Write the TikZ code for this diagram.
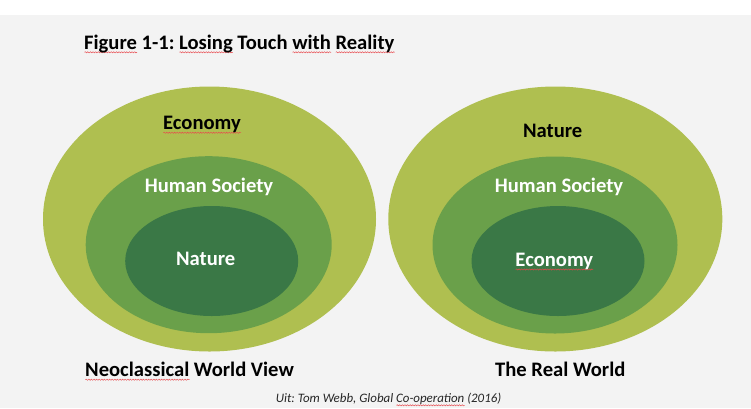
\documentclass[tikz,border=0pt]{standalone}
\usepackage{fontspec}
\setmainfont{Carlito}
\usepackage{xcolor}
\usetikzlibrary{shapes.geometric,positioning,decorations.pathmorphing}
\frenchspacing
\definecolor{colorBg}{HTML}{F3F3F3}
\definecolor{colorOut}{HTML}{AFBF50}
\definecolor{colorMid}{HTML}{6AA04A}
\definecolor{colorIn}{HTML}{3A7846}
\definecolor{colorSpell}{HTML}{E8484C}
\newsavebox{\spellbox}
\newcommand{\spell}[1]{\sbox{\spellbox}{#1}\rlap{\tikz[x=1pt,y=1pt,baseline=0pt]\draw[colorSpell, line width=0.45pt, decorate, decoration={snake, amplitude=0.6pt, segment length=2.6pt}] (0pt,-3pt) -- (\wd\spellbox,-3pt);}\usebox{\spellbox}}

\begin{document}
\begin{tikzpicture}[x=1pt,y=-1pt,every node/.append style={align=center},blob/.style={ellipse, inner sep=0pt, draw=none},big/.style={font=\fontsize{20.6}{23}\selectfont\bfseries},head/.style={font=\fontsize{20.6}{23}\selectfont\bfseries, anchor=base west, inner sep=0pt},]
    % background, white strip on top
    \fill[colorBg] (0,0) rectangle (751,408);
    \fill[white] (0,0) rectangle (751,15);
    \useasboundingbox (0,0) rectangle (751,408);
    \node [head] (title) at (84,49.3) {\spell{Figure} 1-1: \spell{Losing} Touch \spell{with} \spell{Reality}};
    % left: neoclassical view
    \node [blob, fill=colorOut, minimum width=333pt, minimum height=265pt] (EcoL) at (209.5,219) {};
    \node [blob, fill=colorMid, minimum width=246pt, minimum height=177pt] (SocL) at (208.7,244.7) {};
    \node [blob, fill=colorIn, minimum width=173pt, minimum height=110pt] (NatL) at (211.7,261) {};
    \node [big, text=black] (EcoLtxt) at (202,125) {\spell{Economy}};
    \node [big, text=white] (SocLtxt) at (209,186.7) {Human Society};
    \node [big, text=white] (NatLtxt) at (205.7,259.3) {Nature};
    % right: the real world
    \node [blob, fill=colorOut, minimum width=334pt, minimum height=265pt] (NatR) at (555.3,219) {};
    \node [blob, fill=colorMid, minimum width=245pt, minimum height=177pt] (SocR) at (555,245) {};
    \node [blob, fill=colorIn, minimum width=173pt, minimum height=110pt] (EcoR) at (558,261) {};
    \node [big, text=black] (NatRtxt) at (552.7,130.7) {Nature};
    \node [big, text=white] (SocRtxt) at (559,187.3) {Human Society};
    \node [big, text=white] (EcoRtxt) at (554.3,261.7) {\spell{Economy}};
    % captions
    \node [head] (capL) at (85,376.7) {\spell{Neoclassical} World View};
    \node [head] (capR) at (495,376.3) {The Real World};
    \node [anchor=base west, inner sep=0pt, font=\fontsize{12.9}{15}\selectfont\itshape, text=black!85] (src) at (275.7,402.3) {Uit: Tom Webb, Global \spell{Co-operation} (2016)};
\end{tikzpicture}
\end{document}
